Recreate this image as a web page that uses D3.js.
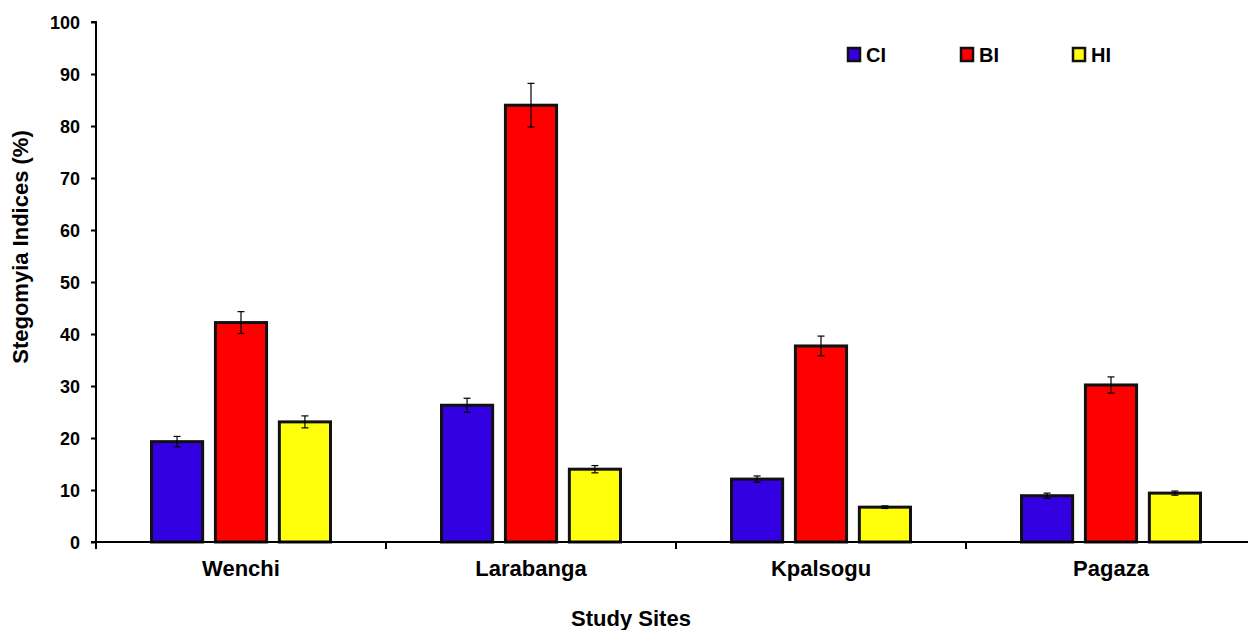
<!DOCTYPE html>
<html>
<head>
<meta charset="utf-8">
<script src="https://cdn.jsdelivr.net/npm/d3@7"></script>
<style>
  body { margin: 0; background: #fff; }
  svg text { font-family: "Liberation Sans", Arial, sans-serif; font-weight: bold; fill: #000; }
</style>
</head>
<body>
<svg id="chart"></svg>
<script>
// data
var sites = ["Wenchi", "Larabanga", "Kpalsogu", "Pagaza"];
var series = ["CI", "BI", "HI"];
var colors = ["#3300E2", "#FF0000", "#FFFF0C"];
var ciValues = [19.3, 26.3, 12.1, 8.9];
var biValues = [42.2, 84.0, 37.7, 30.2];
var hiValues = [23.1, 14.0, 6.7, 9.4];
var ciErrors = [1.0, 1.35, 0.6, 0.5];
var biErrors = [2.1, 4.2, 1.9, 1.55];
var hiErrors = [1.15, 0.7, 0.25, 0.4];
var yTicks = [0, 10, 20, 30, 40, 50, 60, 70, 80, 90, 100];

var w = 1248, h = 630;
var svg = d3.select("#chart").attr("width", w).attr("height", h);

var values = [ciValues, biValues, hiValues];
var errors = [ciErrors, biErrors, hiErrors];

var x = d3.scaleBand().domain(sites).range([96, 1256]);
var y = d3.scaleLinear().domain([0, 100]).range([542, 22]);
// offsets of the three bars inside a site
var xs = d3.scaleBand().domain(series).range([55.5, 234.5]).paddingInner(0.2);

var data = [];
sites.forEach(function (s, i) {
  series.forEach(function (k, j) {
    data.push({ site: s, key: k, v: values[j][i], e: errors[j][i], c: colors[j] });
  });
});

svg.selectAll("rect.bar")
  .data(data)
  .enter()
  .append("rect")
  .attr("class", "bar")
  .attr("x", function (d) { return x(d.site) + xs(d.key); })
  .attr("y", function (d) { return y(d.v); })
  .attr("width", xs.bandwidth())
  .attr("height", function (d) { return y(0) - y(d.v); })
  .attr("fill", function (d) { return d.c; })
  .attr("stroke", "#111")
  .attr("stroke-width", 3);

// error bars
var eb = svg.selectAll("g.err")
  .data(data)
  .enter()
  .append("g")
  .attr("class", "err")
  .attr("stroke", "#000")
  .attr("stroke-width", 1.2);
eb.append("line")
  .attr("x1", function (d) { return x(d.site) + xs(d.key) + xs.bandwidth() / 2; })
  .attr("x2", function (d) { return x(d.site) + xs(d.key) + xs.bandwidth() / 2; })
  .attr("y1", function (d) { return y(d.v + d.e); })
  .attr("y2", function (d) { return y(d.v - d.e); });
[1, -1].forEach(function (sgn) {
  eb.append("line")
    .attr("x1", function (d) { return x(d.site) + xs(d.key) + xs.bandwidth() / 2 - 3.5; })
    .attr("x2", function (d) { return x(d.site) + xs(d.key) + xs.bandwidth() / 2 + 3.5; })
    .attr("y1", function (d) { return y(d.v + sgn * d.e); })
    .attr("y2", function (d) { return y(d.v + sgn * d.e); });
});

// y axis
var yAxis = d3.axisLeft(y).tickValues(yTicks).tickSize(5).tickPadding(11);
var gy = svg.append("g").attr("transform", "translate(96,0)").call(yAxis);
gy.select(".domain").attr("stroke-width", 2).attr("d", "M-5,22H0V542H-5");
gy.selectAll(".tick line").attr("stroke-width", 2);
gy.selectAll(".tick text").style("font-size", "18px").attr("dy", "0.36em");

// x axis
var gx = svg.append("g").attr("class", "x axis").attr("transform", "translate(0,542)");
gx.append("line").attr("x1", 95).attr("x2", 1256).attr("stroke", "#000").attr("stroke-width", 2);
gx.selectAll("line.tk")
  .data(sites)
  .enter()
  .append("line")
  .attr("x1", function (d) { return x(d); })
  .attr("x2", function (d) { return x(d); })
  .attr("y1", 0).attr("y2", 7)
  .attr("stroke", "#000").attr("stroke-width", 2);
gx.selectAll("text")
  .data(sites)
  .enter()
  .append("text")
  .attr("x", function (d) { return x(d) + x.bandwidth() / 2; })
  .attr("y", 34)
  .attr("text-anchor", "middle")
  .style("font-size", "22px")
  .text(function (d) { return d; });

// axis titles
svg.append("text")
  .attr("x", 631).attr("y", 626)
  .attr("text-anchor", "middle")
  .style("font-size", "22px")
  .text("Study Sites");
svg.append("text")
  .attr("transform", "translate(28,247) rotate(-90)")
  .attr("text-anchor", "middle")
  .style("font-size", "22px")
  .text("Stegomyia Indices (%)");

// legend
var legX = [848, 961, 1073];
var lg = svg.selectAll("g.leg")
  .data(series)
  .enter()
  .append("g")
  .attr("class", "leg")
  .attr("transform", function (d, i) { return "translate(" + legX[i] + ",48)"; });
lg.append("rect")
  .attr("width", 12).attr("height", 13)
  .attr("fill", function (d, i) { return colors[i]; })
  .attr("stroke", "#111").attr("stroke-width", 2.5);
lg.append("text")
  .attr("x", 18).attr("y", 14)
  .style("font-size", "20px")
  .text(function (d) { return d; });
</script>
</body>
</html>
